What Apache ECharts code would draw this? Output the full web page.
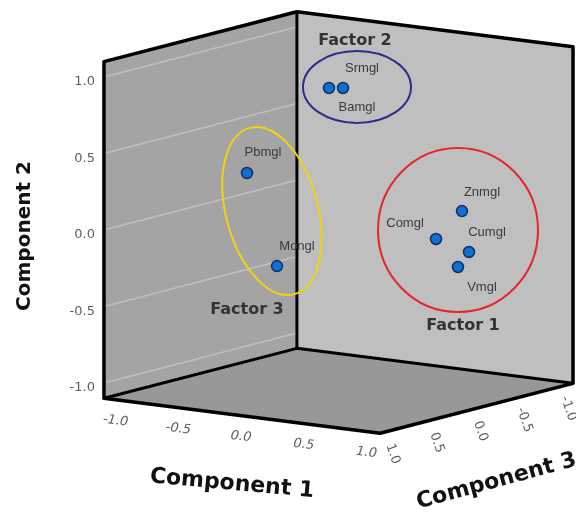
<!DOCTYPE html>
<html>
<head>
<meta charset="utf-8">
<script src="https://cdn.jsdelivr.net/npm/echarts@6/dist/echarts.min.js"></script>
<style>
  html, body { margin: 0; padding: 0; background: #fff; }
  #chart { width: 576px; height: 514px; }
</style>
</head>
<body>
<div id="chart"></div>
<script>
// component loadings (component 3 is a best guess from the projection)
const names = ['Srmgl', 'Bamgl', 'Pbmgl', 'Mongl', 'Znmgl', 'Comgl', 'Cumgl', 'Vmgl']
const comp1 = [0.071, 0.008, -0.114, 0.097, 0.914, 0.812, 0.935, 0.952]
const comp2 = [0.894, 0.898, 0.442, -0.150, 0.155, -0.016, -0.118, -0.192]
const comp3 = [0.05, 0.12, 0.88, 0.84, -0.10, 0.05, -0.15, 0.00]

const ticks = [-1.0, -0.5, 0.0, 0.5, 1.0]
const tickLabels = ['-1.0', '-0.5', '0.0', '0.5', '1.0']
const LIM = 1.1

// oblique view of the cube, in screen units per unit of each component
const E1 = [125.5, -15.9]
const E2 = [0, 153]
const E3 = [-87.7, -22.7]

function project(c1, c2, c3) {
  return [
    E1[0] * c1 + E2[0] * c2 + E3[0] * c3,
    E1[1] * c1 + E2[1] * c2 + E3[1] * c3,
  ]
}

// label placement per point (pixels from the symbol centre)
const LABEL_OFFSET = {
  Srmgl: [19, -20], Bamgl: [28, 19], Pbmgl: [16, -21], Mongl: [20, -20],
  Znmgl: [20, -19], Comgl: [-31, -16], Cumgl: [18, -20], Vmgl: [24, 20],
}

const TICK_FONT = '13px "DejaVu Sans"'
const TICK_COLOR = '#5e5e5e'

function renderBox(params, api) {
  const L = LIM
  const pt = (a, b, c) => api.coord(project(a, b, c))
  const poly = (pts, fill) => ({ type: 'polygon', shape: { points: pts }, style: { fill } })
  const seg = (p, q, w, stroke) => ({
    type: 'line',
    shape: { x1: p[0], y1: p[1], x2: q[0], y2: q[1] },
    style: { stroke, lineWidth: w, lineCap: 'round' },
  })
  const text = (p, str, opt) => ({
    type: 'text',
    x: p[0] + (opt.dx || 0),
    y: p[1] + (opt.dy || 0),
    rotation: opt.rotation || 0,
    style: {
      text: str,
      font: opt.font || TICK_FONT,
      fill: TICK_COLOR,
      align: opt.align || 'center',
      verticalAlign: 'middle',
    },
  })
  const kids = []

  // panels
  kids.push(poly([pt(-L, -L, L), pt(L, -L, L), pt(L, -L, -L), pt(-L, -L, -L)], '#989898'))
  kids.push(poly([pt(-L, -L, L), pt(-L, L, L), pt(-L, L, -L), pt(-L, -L, -L)], '#a4a4a4'))
  kids.push(poly([pt(-L, -L, -L), pt(-L, L, -L), pt(L, L, -L), pt(L, -L, -L)], '#bfbfbf'))

  // grid lines for component 2
  ticks.forEach((t) => {
    kids.push(seg(pt(-L, t, L), pt(-L, t, -L), 1.5, 'rgba(255,255,255,0.3)'))
    kids.push(seg(pt(-L, t, -L), pt(L, t, -L), 1, 'rgba(255,255,255,0.06)'))
  })

  // cube edges
  kids.push({
    type: 'polyline',
    shape: {
      points: [pt(-L, L, -L), pt(-L, L, L), pt(-L, -L, L), pt(L, -L, L),
        pt(L, -L, -L), pt(L, L, -L), pt(-L, L, -L)],
    },
    style: { stroke: '#000', lineWidth: 3.5, lineJoin: 'round', fill: null },
  })
  kids.push(seg(pt(-L, L, -L), pt(-L, -L, -L), 3, '#000'))
  kids.push(seg(pt(-L, -L, L), pt(-L, -L, -L), 3, '#000'))
  kids.push(seg(pt(-L, -L, -L), pt(L, -L, -L), 3, '#000'))

  // tick labels
  ticks.forEach((t, i) => {
    kids.push(text(pt(-L, t, L), tickLabels[i], { dx: -9, dy: 5, align: 'right' }))
    kids.push(text(pt(t, -L, L), tickLabels[i], {
      dx: -1, dy: 21, rotation: -0.12, font: 'italic 13px "DejaVu Sans"',
    }))
    kids.push(text(pt(L, -L, t), tickLabels[i], { dx: 4, dy: 23, rotation: -1.24 }))
  })

  return { type: 'group', children: kids }
}

const chart = echarts.init(document.getElementById('chart'))

const TITLE_FONT = 'bold 20px "DejaVu Sans"'
const FACTOR_FONT = 'bold 16px "DejaVu Sans"'

chart.setOption({
  animation: false,
  backgroundColor: '#fff',
  grid: { left: 0, top: 0, width: 576, height: 514 },
  xAxis: { type: 'value', min: -338.5, max: 237.5, show: false },
  yAxis: { type: 'value', min: -291.5, max: 222.5, show: false },
  graphic: [
    { type: 'text', x: 25, y: 236, rotation: Math.PI / 2, z: 10,
      style: { text: 'Component 2', font: TITLE_FONT, fill: '#111', align: 'center', verticalAlign: 'middle' } },
    { type: 'text', x: 232, y: 484, rotation: -0.09, z: 10,
      style: { text: 'Component 1', font: 'bold 22px "DejaVu Sans"', fill: '#111', align: 'center', verticalAlign: 'middle' } },
    { type: 'text', x: 417, y: 503, rotation: 0.265, z: 10,
      style: { text: 'Component 3', font: 'bold 22px "DejaVu Sans"', fill: '#111', align: 'left', verticalAlign: 'middle' } },

    { type: 'ellipse', x: 357, y: 87, z: 10, shape: { cx: 0, cy: 0, rx: 54, ry: 36 },
      style: { fill: null, stroke: '#2b2d8c', lineWidth: 2 } },
    { type: 'ellipse', x: 458, y: 230, z: 10, shape: { cx: 0, cy: 0, rx: 80, ry: 82 },
      style: { fill: null, stroke: '#e3262a', lineWidth: 2 } },
    { type: 'ellipse', x: 272, y: 211, rotation: 0.26, z: 10, shape: { cx: 0, cy: 0, rx: 46, ry: 86 },
      style: { fill: null, stroke: '#f4d20e', lineWidth: 2 } },

    { type: 'text', x: 355, y: 41, z: 10,
      style: { text: 'Factor 2', font: FACTOR_FONT, fill: '#333', align: 'center', verticalAlign: 'middle' } },
    { type: 'text', x: 247, y: 310, z: 10,
      style: { text: 'Factor 3', font: FACTOR_FONT, fill: '#333', align: 'center', verticalAlign: 'middle' } },
    { type: 'text', x: 463, y: 326, z: 10,
      style: { text: 'Factor 1', font: FACTOR_FONT, fill: '#333', align: 'center', verticalAlign: 'middle' } },
  ],
  series: [
    {
      type: 'custom',
      name: 'box',
      silent: true,
      clip: false,
      z: 1,
      data: [[0, 0]],
      renderItem: renderBox,
    },
    {
      type: 'scatter',
      z: 20,
      symbol: 'circle',
      symbolSize: 11,
      itemStyle: { color: '#0f6fd3', borderColor: '#142f5c', borderWidth: 1.5, opacity: 1 },
      label: {
        show: true,
        position: 'inside',
        formatter: '{b}',
        color: '#3a3a3a',
        fontSize: 13,
        fontFamily: 'Liberation Sans',
      },
      data: names.map((n, i) => ({
        name: n,
        value: project(comp1[i], comp2[i], comp3[i]),
        label: { offset: LABEL_OFFSET[n] },
      })),
    },
  ],
})

window.addEventListener('resize', () => chart.resize())
</script>
</body>
</html>
